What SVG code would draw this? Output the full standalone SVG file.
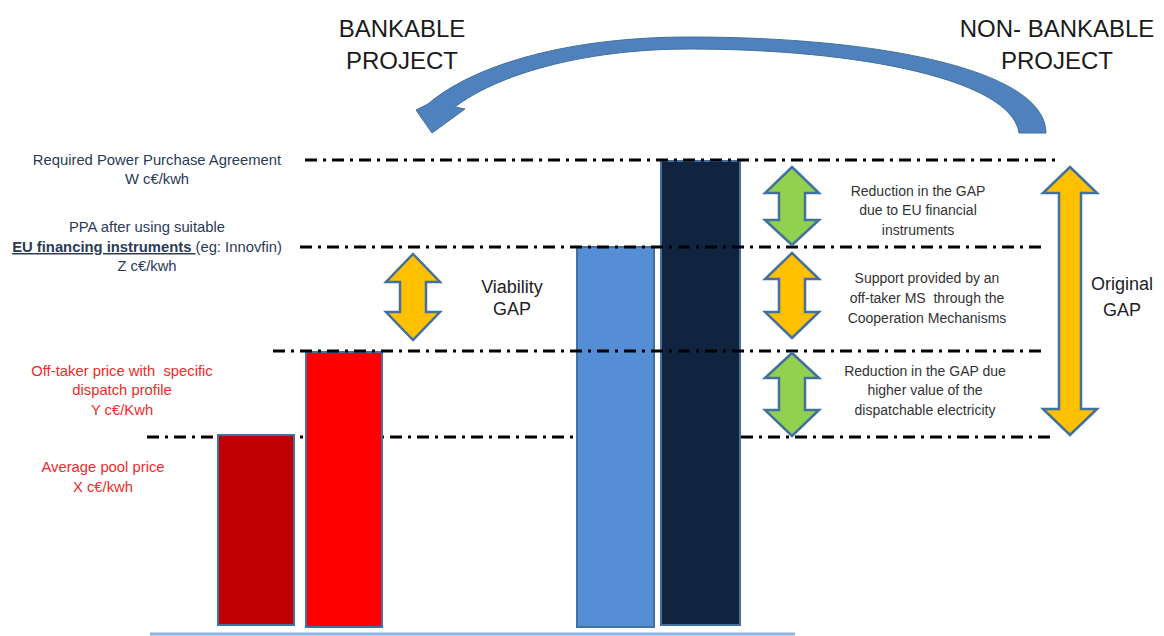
<svg xmlns="http://www.w3.org/2000/svg" width="1164" height="636" viewBox="0 0 1164 636">
<style>
  text{font-family:"Liberation Sans",Arial,sans-serif;white-space:pre}
  .title{font-size:24px;fill:#1a1a1a;text-anchor:middle}
  .lbl{font-size:14.8px;fill:#2a3a58;text-anchor:middle}
  .red{font-size:14.8px;fill:#ee2a2a;text-anchor:middle}
  .note{font-size:14px;fill:#333;text-anchor:middle}
  .gap{font-size:18px;fill:#222;text-anchor:middle}
  .dd{stroke:#000;stroke-width:3;stroke-dasharray:12 6 3 6;fill:none}
  .bar{stroke:#41719C;stroke-width:2}
  .orange{fill:#FFC000;stroke:#41719C;stroke-width:2.5;stroke-linejoin:miter}
  .green{fill:#92D050;stroke:#41719C;stroke-width:2.5;stroke-linejoin:miter}
</style>
<rect width="1164" height="636" fill="#fff"/>

<g id="axis"><line x1="150" y1="634" x2="795" y2="634" stroke="#8EB4E3" stroke-width="3"/></g>

<g id="levels-under">
  <line class="dd" x1="147" y1="437" x2="1055" y2="437"/>
</g>

<g id="bar-x"><rect class="bar" x="218" y="435" width="76" height="190" fill="#C00000"/></g>
<g id="bar-y"><rect class="bar" x="306" y="352" width="76" height="275" fill="#FF0000"/></g>
<g id="bar-z"><rect class="bar" x="577" y="247" width="77" height="380" fill="#558ED5"/></g>
<g id="bar-w"><rect class="bar" x="661" y="161" width="79" height="464" fill="#10243F"/></g>

<g id="connectors">
  <line class="dd" x1="305" y1="160" x2="1060" y2="160"/>
  <line class="dd" x1="300" y1="247" x2="1047" y2="247"/>
  <line class="dd" x1="273" y1="351" x2="1045" y2="351"/>
  <path id="curved-arrow" d="M1046,133 C1046,70 880,37 690,37 C560,37 470,68 428,104 L416,110 L432,133 L465,109 L455,107 C495,76 580,49 690,49 C860,49 1012,80 1019,133 Z" fill="#4F81BD" stroke="#41719C" stroke-width="1"/>
</g>

<g id="arrow-viability"><path class="orange" d="M413,254 L440,282 L426,282 L426,312 L440,312 L413,340 L386,312 L400,312 L400,282 L386,282 Z"/></g>
<g id="arrow-eu"><path class="green" d="M792,167 L819,193 L805,193 L805,220 L819,220 L792,245 L765,220 L779,220 L779,193 L765,193 Z"/></g>
<g id="arrow-support"><path class="orange" d="M792,253 L819,279 L805,279 L805,312 L819,312 L792,338 L765,312 L779,312 L779,279 L765,279 Z"/></g>
<g id="arrow-dispatch"><path class="green" d="M792,353 L819,378 L805,378 L805,410 L819,410 L792,436 L765,410 L779,410 L779,378 L765,378 Z"/></g>
<g id="arrow-original"><path class="orange" d="M1070,167 L1097,193 L1081,193 L1081,409 L1097,409 L1070,435 L1043,409 L1059,409 L1059,193 L1043,193 Z"/></g>

<g id="title-bankable">
  <text class="title" x="402" y="37">BANKABLE</text>
  <text class="title" x="402" y="69">PROJECT</text>
</g>
<g id="title-nonbankable">
  <text class="title" x="1057" y="37">NON- BANKABLE</text>
  <text class="title" x="1057" y="69">PROJECT</text>
</g>

<g id="label-w">
  <text class="lbl" x="157" y="165">Required Power Purchase Agreement</text>
  <text class="lbl" x="157" y="184">W c€/kwh</text>
</g>
<g id="label-z">
  <text class="lbl" x="147" y="232">PPA after using suitable</text>
  <text class="lbl" x="147" y="252"><tspan font-weight="bold" text-decoration="underline">EU financing instruments </tspan>(eg: Innovfin)</text>
  <text class="lbl" x="147" y="271">Z c€/kwh</text>
</g>
<g id="label-y">
  <text class="red" x="122" y="376">Off-taker price with  specific</text>
  <text class="red" x="122" y="395">dispatch profile</text>
  <text class="red" x="122" y="415">Y c€/Kwh</text>
</g>
<g id="label-x">
  <text class="red" x="103" y="472">Average pool price</text>
  <text class="red" x="103" y="492">X c€/kwh</text>
</g>
<g id="label-viability">
  <text class="gap" x="512" y="293">Viability</text>
  <text class="gap" x="512" y="315">GAP</text>
</g>
<g id="note-eu">
  <text class="note" x="918" y="196">Reduction in the GAP</text>
  <text class="note" x="918" y="215">due to EU financial</text>
  <text class="note" x="918" y="235">instruments</text>
</g>
<g id="note-support">
  <text class="note" x="927" y="283">Support provided by an</text>
  <text class="note" x="927" y="303">off-taker MS  through the</text>
  <text class="note" x="927" y="323">Cooperation Mechanisms</text>
</g>
<g id="note-dispatch">
  <text class="note" x="925" y="376">Reduction in the GAP due</text>
  <text class="note" x="925" y="395">higher value of the</text>
  <text class="note" x="925" y="415">dispatchable electricity</text>
</g>
<g id="label-original">
  <text class="gap" x="1122" y="290">Original</text>
  <text class="gap" x="1122" y="316">GAP</text>
</g>
</svg>
